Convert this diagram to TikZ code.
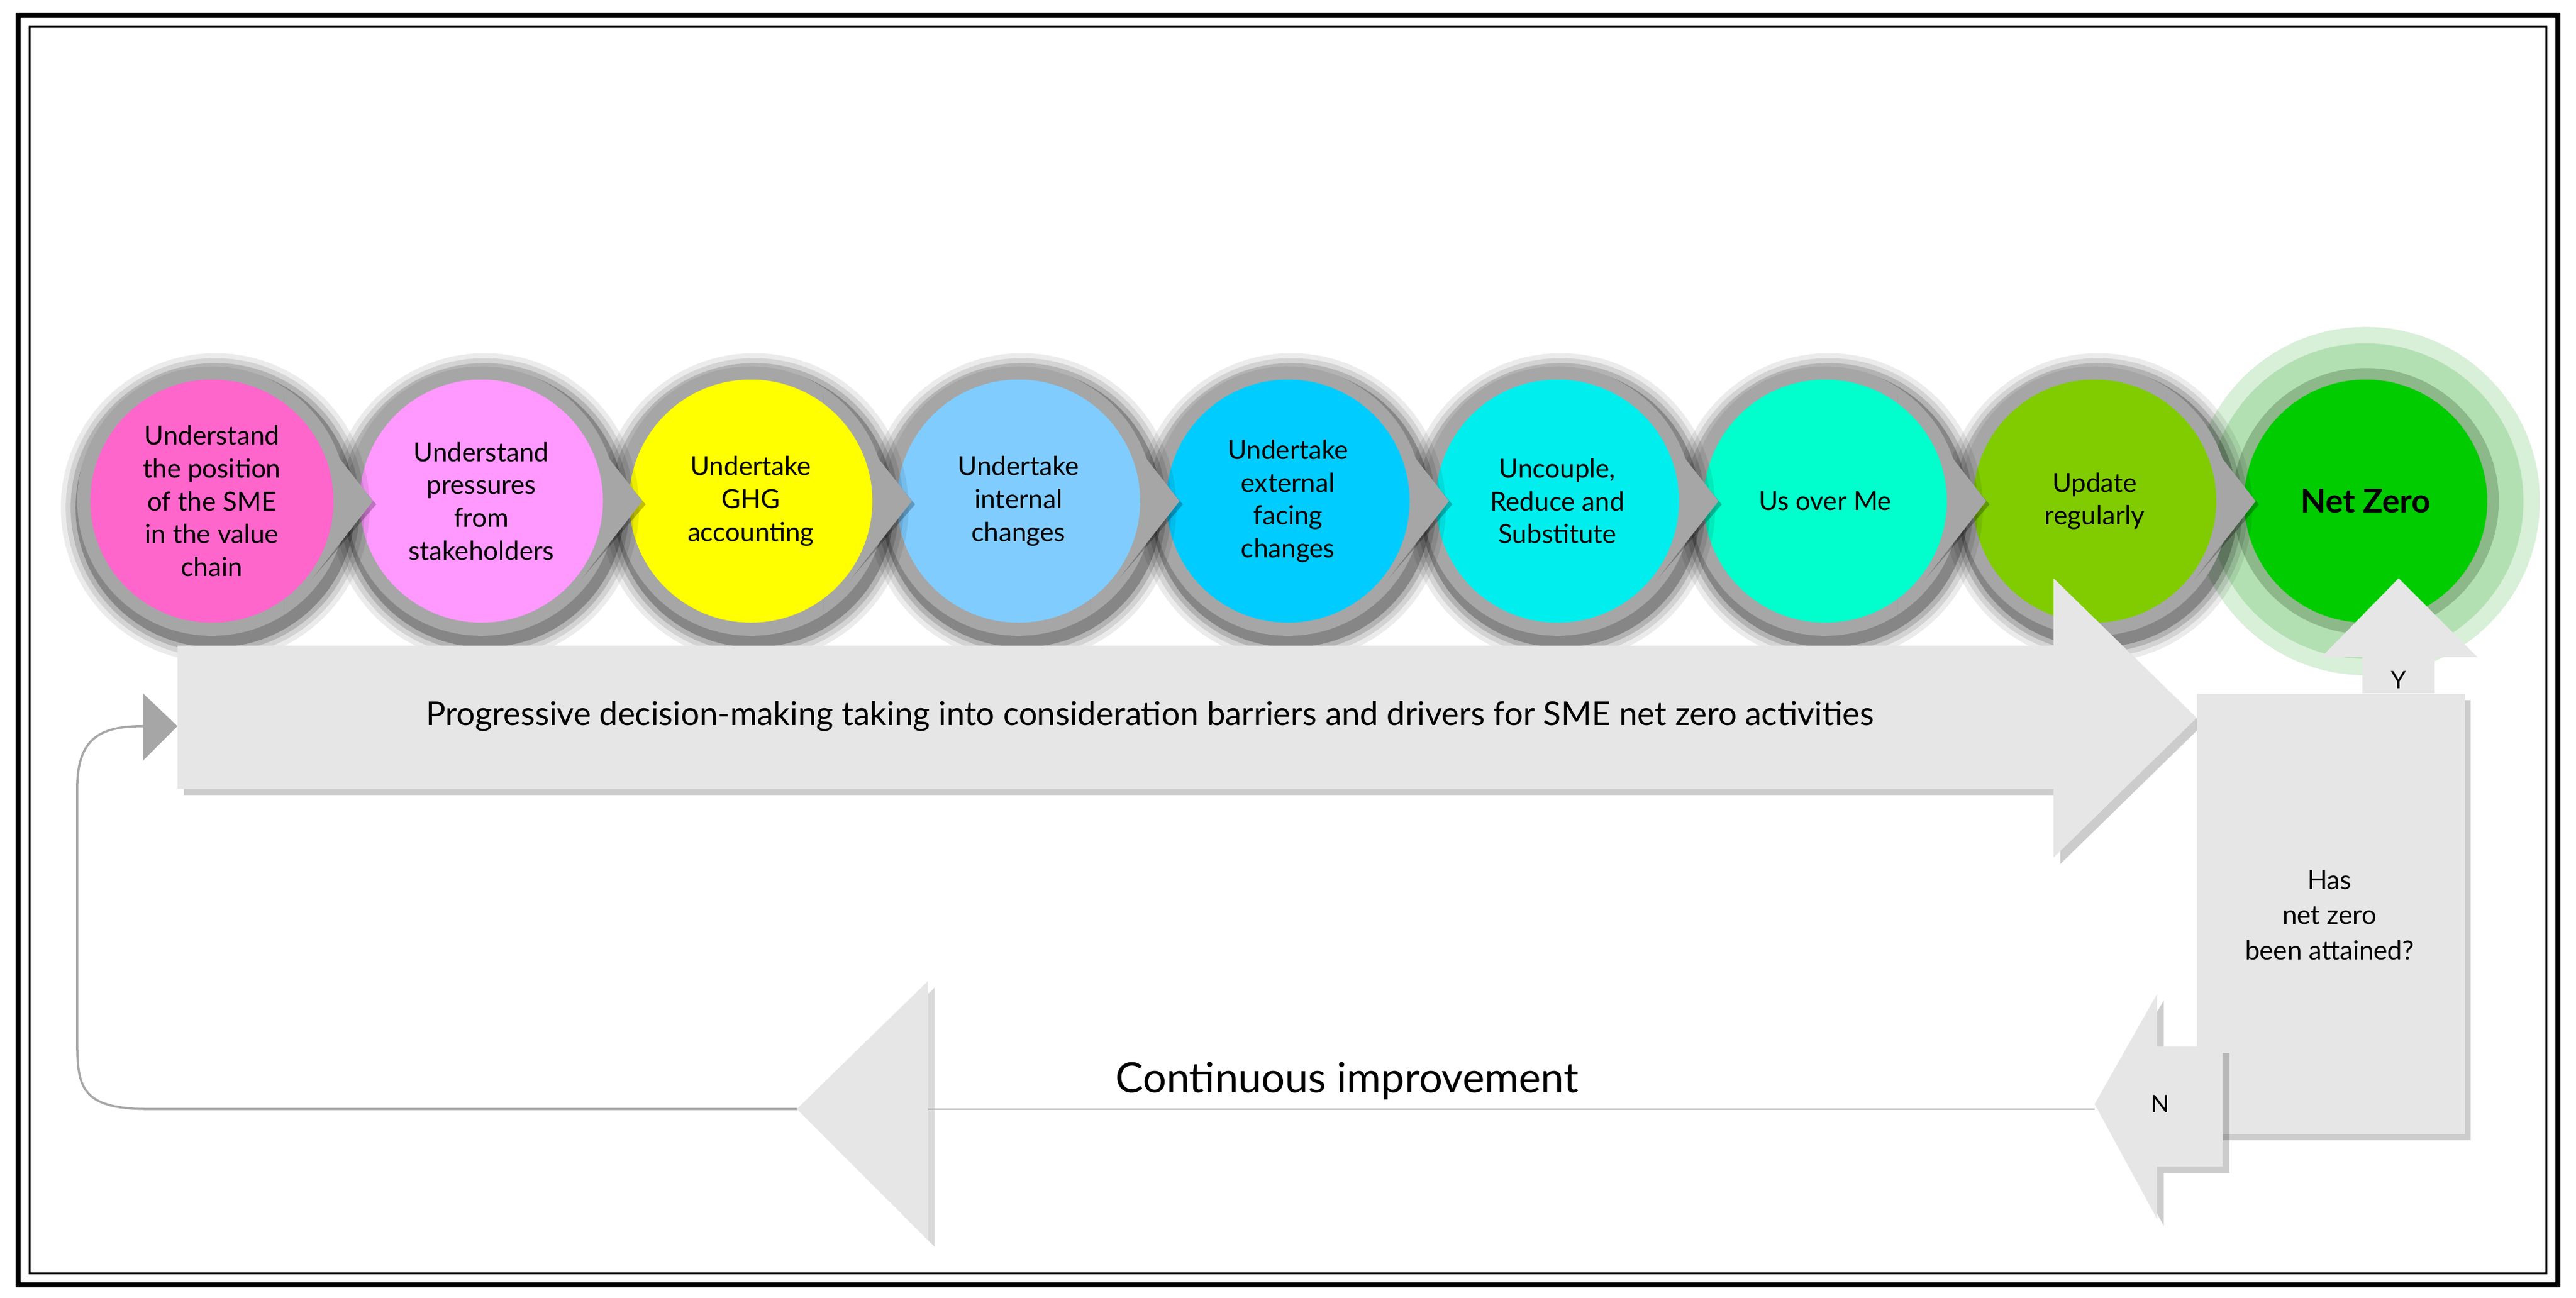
\documentclass[tikz,border=0pt]{standalone}
\usepackage{fontspec}
\setmainfont{Lato}
\begin{document}
\begin{tikzpicture}[x=0.02635cm,y=-0.02635cm,
  ring/.style={fill=ringgray},
  stepc/.style={circle,minimum size=3.9cm,align=center,inner sep=0pt,font=\fontsize{12}{15}\selectfont},
  blk/.style={fill=boxgray},
  loopline/.style={draw=linegray,line width=1pt}]
\definecolor{ringgray}{HTML}{A6A6A6}
\definecolor{boxgray}{HTML}{E6E6E6}
\definecolor{linegray}{HTML}{A6A6A6}
\definecolor{nzring}{HTML}{8DB88A}
\definecolor{nz}{HTML}{00CC00}
\useasboundingbox (0,0) rectangle (1568,790);
\fill[white] (0,0) rectangle (1568,790);
% frame
\draw[line width=2.2pt] (11,9) rectangle (1557,782);
\draw[line width=0.9pt] (18,16) rectangle (1550,775);
% Net Zero
\fill[green!60!black!25,opacity=0.6] (1440,305) circle (106);
\fill[green!60!black!30] (1440,305) circle (96);
\fill[nzring] (1440,305) circle (81);
\node[stepc,fill=nz,font=\fontsize{15}{18}\selectfont\bfseries] (c9) at (1440,305) {Net Zero};
% steps, right to left
\foreach \X/\col/\txt/\n in {
 1275/80CC00/{Update\\regularly}/8,
 1111/00FFCC/{Us over Me}/7,
 948/00EEEE/{Uncouple,\\Reduce and\\Substitute}/6,
 784/00CCFF/{Undertake\\external\\facing\\changes}/5,
 620/80CCFF/{Undertake\\internal\\changes}/4,
 457/FFFF00/{Undertake\\GHG\\accounting}/3,
 293/FF99FF/{Understand\\pressures\\from\\stakeholders}/2,
 129/FF66CC/{Understand\\the position\\of the SME\\in the value\\chain}/1}{
 \foreach \r/\o in {94/0.08,91/0.1,88/0.15,85/0.25}{\fill[black,opacity=\o] (\X+2,309) circle (\r);}
 \fill[ring] (\X,305) circle (82);
 \fill[black,opacity=0.25] (\X+44,240) -- (\X+100,307) -- (\X+44,372) -- cycle;
 \fill[ring] (\X+44,236) -- (\X+98,305) -- (\X+44,374) -- cycle;
 \definecolor{cc}{HTML}{\col}
 \node[stepc,fill=cc] (c\n) at (\X,305) {\txt};
}
% big arrow
\fill[black,opacity=0.2] (112,397) -- (1254,397) -- (1254,356) -- (1341,441) -- (1254,526) -- (1254,484) -- (112,484) -- cycle;
\fill[blk] (108,393) -- (1250,393) -- (1250,352) -- (1337,437) -- (1250,522) -- (1250,480) -- (108,480) -- cycle;
\node[font=\fontsize{15}{18}\selectfont] (prog) at (700,436) {Progressive decision-making taking into consideration barriers and drivers for SME net zero activities};
\fill[ringgray] (87,422) -- (108,442) -- (87,463) -- cycle;
\coordinate (inarrow) at (87,442);
% decision box
\fill[black,opacity=0.2] (1341,426) rectangle (1504,694);
\node[blk,minimum width=163*0.02635cm,minimum height=268*0.02635cm,anchor=north west,inner sep=0pt] (q) at (1337,422) {};
\node[align=center,font=\fontsize{12}{16}\selectfont] (qt) at (1418,557) {Has\\net zero\\been attained?};
% Y arrow
\fill[blk] (1438,422) -- (1438,400) -- (1413,400) -- (1460,352) -- (1508,400) -- (1482,400) -- (1482,422) -- cycle;
\node[font=\fontsize{11}{13}\selectfont] (y) at (1460,414) {Y};
% N arrow
\fill[black,opacity=0.2] (1357,641) -- (1357,714) -- (1317,714) -- (1317,746) -- (1279,676) -- (1317,609) -- (1317,641) -- cycle;
\fill[blk] (1353,637) -- (1353,710) -- (1313,710) -- (1313,742) -- (1275,672) -- (1313,605) -- (1313,637) -- cycle;
\node[font=\fontsize{11}{13}\selectfont] (n) at (1315,672) {N};
\coordinate (ntip) at (1275,675);
% left triangle
\fill[black,opacity=0.15] (489,679) -- (569,601) -- (569,759) -- cycle;
\fill[blk] (485,675) -- (565,597) -- (565,755) -- cycle;
\coordinate (ltip) at (485,675);
\coordinate (lbase) at (565,675);
\draw[line width=0.6pt,draw=ringgray] (ntip) -- (lbase);
\node[font=\fontsize{19}{22}\selectfont] (ci) at (820,658) {Continuous improvement};
\draw[loopline] (ltip) -- (90,675) .. controls (47,675) and (47,660) .. (47,630) -- (47,480) .. controls (47,450) and (60,442) .. (inarrow);
\end{tikzpicture}
\end{document}
